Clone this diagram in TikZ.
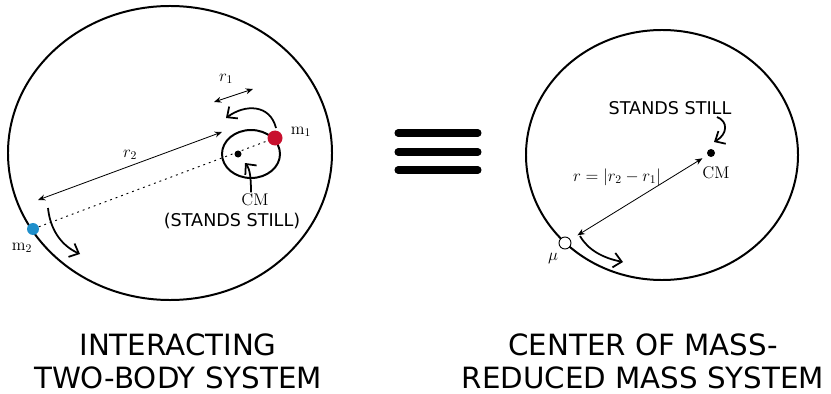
\documentclass[tikz,border=0pt]{standalone}
\usepackage{amsmath}
\usepackage{fontspec}
\usepackage{tikz}
\usetikzlibrary{arrows.meta,positioning}
\newfontfamily\handfont{DejaVu Sans}
\definecolor{massred}{HTML}{C8102E}
\definecolor{massblue}{HTML}{1F8FCB}

\begin{document}
\begin{tikzpicture}[x=0.03cm, y=-0.03cm,
  orbit/.style={line width=1.7pt},
  cmdot/.style={circle, fill=black, inner sep=0pt, minimum size=0.21cm},
  mass/.style={circle, inner sep=0pt, minimum size=#1},
  lbl/.style={font=\Large, inner sep=1pt},
  handlbl/.style={font=\handfont\fontsize{15}{17}\selectfont, inner sep=0pt},
  caption/.style={font=\handfont\fontsize{25}{28}\selectfont, align=center, inner sep=0pt},
  dimarr/.style={{Stealth[length=2.2mm,width=1.8mm]}-{Stealth[length=2.2mm,width=1.8mm]}, line width=0.7pt},
  spin/.style={-{Straight Barb[length=2.4mm,width=4.4mm]}, line width=1.5pt},
  link/.style={dash pattern=on 1.6pt off 3.4pt, line width=0.8pt}
]
  \useasboundingbox (0,0) rectangle (831,394);

  % two-body system
  \draw[orbit] (170,153) ellipse [x radius=4.86cm, y radius=4.41cm];
  \draw[orbit] (251,154) ellipse [x radius=0.87cm, y radius=0.72cm];

  \node[cmdot] (cm1) at (238,154) {};
  \node[mass=0.45cm, fill=massred] (m1) at (275,138) {};
  \node[mass=0.36cm, fill=massblue] (m2) at (33,229) {};
  \node[lbl] (m1lbl) at (301,132) {$\mathrm{m}_1$};
  \node[lbl] (m2lbl) at (22,248) {$\mathrm{m}_2$};
  \draw[link] (m2) -- (m1);

  \coordinate (r2a) at (38,200);
  \coordinate (r2b) at (222,132);
  \draw[dimarr] (r2a) -- node[lbl, above=4pt] {$r_2$} (r2b);
  \coordinate (r1a) at (214,102);
  \coordinate (r1b) at (253,89);
  \draw[dimarr] (r1a) -- (r1b);
  \node[lbl] (r1lbl) at (226,79) {$r_1$};

  \coordinate (spinA) at (276,128);
  \coordinate (spinB) at (226,118);
  \draw[spin] (spinA) .. controls (270,104) and (245,104) .. (spinB);
  \coordinate (m2spinA) at (48,208);
  \coordinate (m2spinB) at (80,254);
  \draw[spin] (m2spinA) .. controls (50,228) and (60,245) .. (m2spinB);

  \node[lbl] (cm1lbl) at (255,200) {CM};
  \node[handlbl] (still1) at (232,221) {(STANDS STILL)};
  \coordinate (cmtip) at (245,163);
  \draw[spin] (cm1lbl.north -| 251,0) .. controls (251,178) and (250,169) .. (cmtip);

  % equals
  \foreach \y in {133,152,170}
    \draw[line width=6pt, line cap=round] (398,\y) -- (478,\y);

  % reduced mass system
  \draw[orbit] (662,155) ellipse [x radius=4.08cm, y radius=3.75cm];

  \node[cmdot, minimum size=0.24cm] (cm2) at (711,153) {};
  \node[lbl] (cm2lbl) at (716,173) {CM};
  \node[handlbl] (still2) at (670,108) {STANDS STILL};
  \coordinate (stillA) at (717,117);
  \coordinate (stillB) at (714,142);
  \draw[spin] (stillA) .. controls (728,121) and (728,134) .. (stillB);

  \node[mass=0.36cm, draw, fill=white, line width=0.8pt] (mu) at (565,243) {};
  \node[lbl] (mulbl) at (553,259) {$\mu$};
  \draw[dimarr, shorten <=7pt, shorten >=5pt] (mu) -- (cm2);
  \node[lbl] (rlbl) at (617,177) {$r = |r_2 - r_1|$};
  \coordinate (muspinA) at (580,236);
  \coordinate (muspinB) at (623,262);
  \draw[spin] (muspinA) .. controls (588,250) and (603,258) .. (muspinB);

  \node[caption] (leftcap) at (178,361) {INTERACTING\\TWO-BODY SYSTEM};
  \node[caption] (rightcap) at (643,361) {CENTER OF MASS-\\REDUCED MASS SYSTEM};
\end{tikzpicture}
\end{document}
